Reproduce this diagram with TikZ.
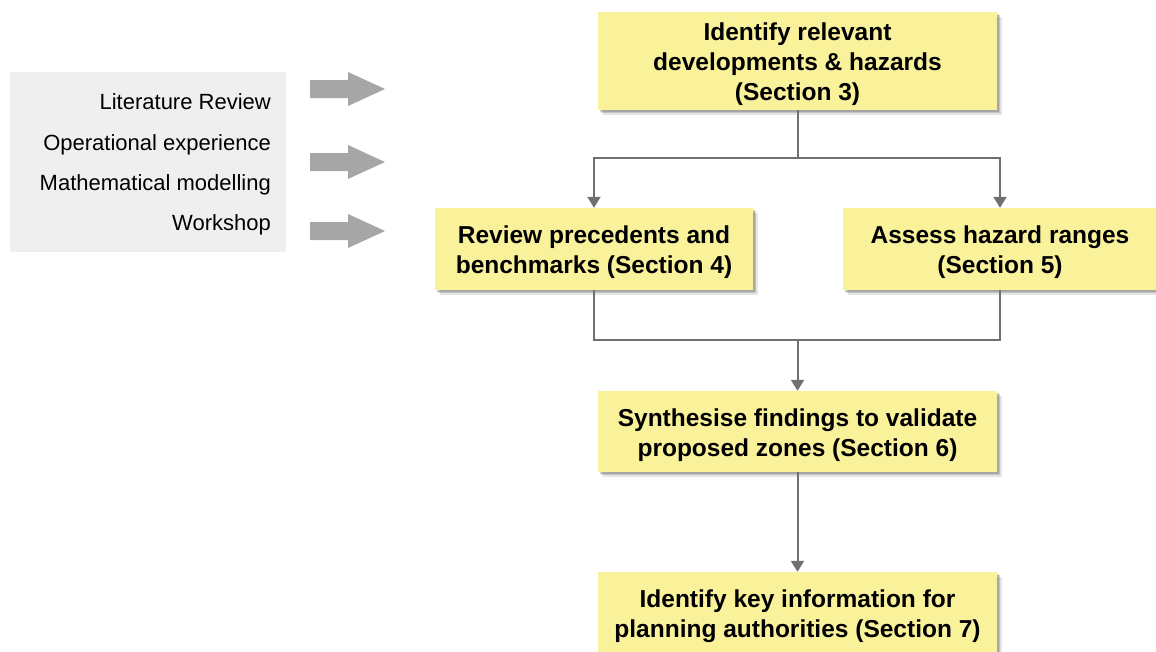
\documentclass[tikz,border=0pt]{standalone}
\usepackage{fontspec}
\setmainfont{Liberation Sans}
\usetikzlibrary{arrows.meta,shadows}
\definecolor{boxyellow}{RGB}{250,242,155}
\definecolor{leftgray}{RGB}{239,239,239}
\definecolor{blockgray}{RGB}{166,166,166}
\definecolor{linegray}{RGB}{112,112,112}
\tikzset{
  stepbox/.style={draw=none, fill=boxyellow, inner sep=0pt,
    drop shadow={shadow xshift=4.5pt, shadow yshift=-4.5pt, fill=black, opacity=0.10},
    drop shadow={shadow xshift=3pt, shadow yshift=-3pt, fill=black, opacity=0.15},
    drop shadow={shadow xshift=1.5pt, shadow yshift=-1.5pt, fill=black, opacity=0.15}},
  steptext/.style={align=center, inner sep=0pt,
    font=\fontsize{24.5}{30}\selectfont\bfseries},
  srctext/.style={anchor=base east, inner sep=0pt, font=\fontsize{22}{27}\selectfont},
  conn/.style={draw=linegray, line width=2pt},
  connarrow/.style={conn, -{Triangle[width=13pt,length=11pt]}},
  blockarrow/.style={fill=blockgray}
}
\begin{document}
\begin{tikzpicture}[x=1pt,y=-1pt]
\useasboundingbox (0,0) rectangle (1156,651);
% left box with sources
\node[fill=leftgray, minimum width=276pt, minimum height=180pt, inner sep=0pt] (src) at (148,162) {};
\node[srctext] (lit) at (271,109.3) {Literature Review};
\node[srctext] (ope) at (271,150.7) {Operational experience};
\node[srctext] (mat) at (271,190.7) {Mathematical modelling};
\node[srctext] (wor) at (271,230.7) {Workshop};
% block arrows
\fill[blockarrow] (310,80) -- (348,80) -- (348,72) -- (385,89) -- (348,106) -- (348,98) -- (310,98) -- cycle;
\fill[blockarrow] (310,153) -- (348,153) -- (348,145) -- (385,162) -- (348,179) -- (348,171) -- (310,171) -- cycle;
\fill[blockarrow] (310,222) -- (348,222) -- (348,214) -- (385,231) -- (348,248) -- (348,240) -- (310,240) -- cycle;
% boxes
\node[stepbox, minimum width=399pt, minimum height=98pt] (b1) at (797.5,61) {};
\node[stepbox, minimum width=318pt, minimum height=82pt] (b2) at (594,249) {};
\node[stepbox, minimum width=314pt, minimum height=82pt] (b3) at (1000,249) {};
\node[stepbox, minimum width=399pt, minimum height=81pt] (b4) at (797.5,431.5) {};
\node[stepbox, minimum width=399pt, minimum height=82pt] (b5) at (797.5,613) {};
\node[steptext] (t1) at ([yshift=-3.5pt]b1.center) {Identify relevant\\developments \& hazards\\(Section 3)};
\node[steptext] (t2) at ([yshift=-3.5pt]b2.center) {Review precedents and\\benchmarks (Section 4)};
\node[steptext] (t3) at ([yshift=-3.5pt]b3.center) {Assess hazard ranges\\(Section 5)};
\node[steptext] (t4) at ([yshift=-3.5pt]b4.center) {Synthesise findings to validate\\proposed zones (Section 6)};
\node[steptext] (t5) at ([yshift=-3.5pt]b5.center) {Identify key  information for\\planning authorities (Section 7)};
% connectors
\coordinate (j1) at (797.5,158);
\coordinate (j2) at (797.5,340);
\draw[conn] (b1.south) -- (j1);
\draw[connarrow] (j1) -| (b2.north);
\draw[connarrow] (j1) -| (b3.north);
\draw[conn] (b2.south) |- (j2) -| (b3.south);
\draw[connarrow] (j2) -- (b4.north);
\draw[connarrow] (b4.south) -- (b5.north);
\end{tikzpicture}
\end{document}
